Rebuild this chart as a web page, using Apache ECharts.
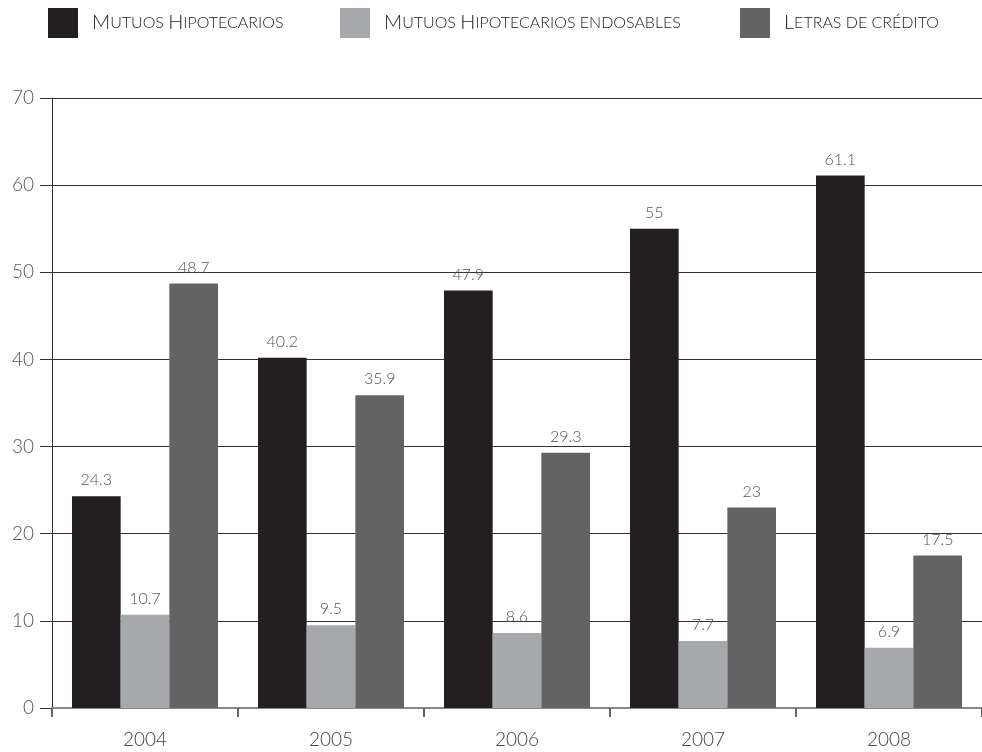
<!DOCTYPE html>
<html style="height: 100%">
<head>
    <meta charset="utf-8">
</head>
<body style="height: 100%; margin: 0; background: #fff">
<div id="container" style="width: 982px; height: 752px"></div>
<script type="text/javascript" src="https://cdn.jsdelivr.net/npm/echarts@6/dist/echarts.min.js"></script>
<script type="text/javascript">
    var years = ['2004', '2005', '2006', '2007', '2008'];
    var mutuos = [24.3, 40.2, 47.9, 55, 61.1];
    var endosables = [10.7, 9.5, 8.6, 7.7, 6.9];
    var letras = [48.7, 35.9, 29.3, 23, 17.5];
    var seriesNames = ['Mutuos Hipotecarios', 'Mutuos Hipotecarios endosables', 'Letras de crédito'];
    var colors = ['#231f20', '#a7a8ab', '#636364'];

    var font = 'Lato';

    // versalitas a mano: mayúsculas grandes, el resto en mayúscula pequeña
    function smallCaps(name) {
        var out = '';
        var run = '', runBig = null;
        for (var i = 0; i < name.length; i++) {
            var c = name[i];
            var big = c !== ' ' && c === c.toUpperCase() && c !== c.toLowerCase();
            if (c === ' ') big = runBig === null ? false : runBig;
            if (runBig !== null && big !== runBig) {
                out += '{' + (runBig ? 'a' : 'b') + '|' + run + '}';
                run = '';
            }
            runBig = big;
            run += c.toUpperCase();
        }
        if (run) out += '{' + (runBig ? 'a' : 'b') + '|' + run + '}';
        return out;
    }

    function legend(i, left) {
        return {
            data: [seriesNames[i]],
            left: left,
            top: 8,
            padding: 0,
            itemWidth: 30,
            itemHeight: 30,
            itemGap: 0,
            icon: 'rect',
            formatter: smallCaps,
            textStyle: {
                padding: [0, 0, 0, 9],
                rich: {
                    a: { fontFamily: font, fontWeight: 300, fontSize: 20, color: '#222' },
                    b: { fontFamily: font, fontWeight: 300, fontSize: 16, color: '#222' }
                }
            }
        };
    }

    var myChart = echarts.init(document.getElementById('container'), null, { renderer: 'canvas' });

    function bar(i, data) {
        return {
            name: seriesNames[i],
            type: 'bar',
            data: data,
            barGap: '0%',
            barCategoryGap: '21.5%',
            itemStyle: { color: colors[i] },
            label: {
                show: true,
                position: 'top',
                distance: 8,
                color: '#555',
                fontFamily: font,
                fontWeight: 300,
                fontSize: 16
            }
        };
    }

    var option = {
        animation: false,
        backgroundColor: '#fff',
        legend: [legend(0, 48), legend(1, 340), legend(2, 740)],
        grid: { left: 52, right: 0, top: 98, bottom: 44 },
        xAxis: {
            type: 'category',
            data: years,
            axisLine: { lineStyle: { color: '#888', width: 2 } },
            axisTick: { show: true, length: 9, lineStyle: { color: '#666', width: 2 } },
            axisLabel: { color: '#444', fontFamily: font, fontWeight: 300, fontSize: 19, margin: 22 }
        },
        yAxis: {
            type: 'value',
            min: 0,
            max: 70,
            interval: 10,
            axisLine: { show: true, lineStyle: { color: '#333', width: 1 } },
            axisTick: { show: true, length: 12, lineStyle: { color: '#333', width: 1 } },
            axisLabel: { color: '#555', fontFamily: font, fontWeight: 300, fontSize: 19, margin: 18 },
            splitLine: { lineStyle: { color: '#333', width: 1 } }
        },
        series: [bar(0, mutuos), bar(1, endosables), bar(2, letras)]
    };

    myChart.setOption(option);
</script>
</body>
</html>
